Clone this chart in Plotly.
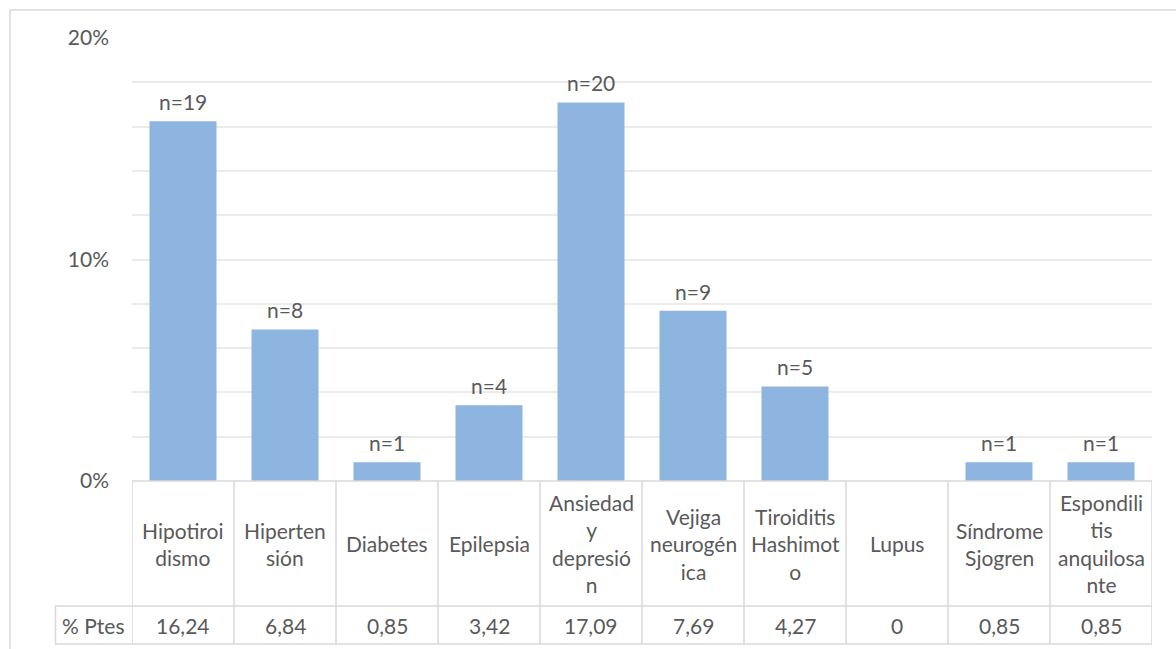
import plotly.graph_objects as go

# Comorbidities: label lines shown in the data table, patient counts and percentages
categories = ["Hipotiroidismo", "Hipertensión", "Diabetes", "Epilepsia",
              "Ansiedad y depresión", "Vejiga neurogénica", "Tiroiditis Hashimoto",
              "Lupus", "Síndrome Sjogren", "Espondilitis anquilosante"]
table_labels = ["Hipotiroi<br>dismo", "Hiperten<br>sión", "Diabetes", "Epilepsia",
                "Ansiedad<br>y<br>depresió<br>n", "Vejiga<br>neurogén<br>ica",
                "Tiroiditis<br>Hashimot<br>o", "Lupus", "Síndrome<br>Sjogren",
                "Espondili<br>tis<br>anquilosa<br>nte"]
n_patients = [19, 8, 1, 4, 20, 9, 5, 0, 1, 1]
pct_patients = [16.24, 6.84, 0.85, 3.42, 17.09, 7.69, 4.27, 0, 0.85, 0.85]
series_name = "% Ptes"
y_label_ticks = [0, 0.10, 0.20]
y_grid_ticks = [0.02, 0.04, 0.06, 0.08, 0.10, 0.12, 0.14, 0.16, 0.18]

TEXT = "#595959"
LINE = "#d9d9d9"
FONT = "Lato"
FS = 21

W, H = 1176, 649
L, R, T, B = 132, 24, 38, 168
PW, PH = W - L - R, H - T - B


def px_x(px):
    return (px - L) / PW


def px_y(py):
    return (H - B - py) / PH


def fmt_pct(v):
    return "0" if v == 0 else f"{v:.2f}".replace(".", ",")


fig = go.Figure()
# invisible carrier so the labelled percentage axis is rendered
fig.add_trace(go.Scatter(x=list(range(len(categories))), y=[p / 100 for p in pct_patients],
                         mode="markers", marker=dict(opacity=0), hoverinfo="skip",
                         yaxis="y", showlegend=False))
fig.add_trace(go.Bar(
    x=list(range(len(categories))), y=[p / 100 for p in pct_patients],
    marker=dict(color="#8db5e0", line=dict(width=0)),
    hovertext=categories, name=series_name, yaxis="y2",
))

annotations = []
# counts above bars
for i, (n, p) in enumerate(zip(n_patients, pct_patients)):
    if n > 0:
        annotations.append(dict(x=i, y=p / 100, xref="x", yref="y2", text=f"n={n}",
                                showarrow=False, yanchor="bottom", yshift=5,
                                font=dict(family=FONT, size=FS, color=TEXT)))
# table: category row and percentage row
row1_top, row1_bot, row2_bot = 481, 606, 644
for i, lab in enumerate(table_labels):
    annotations.append(dict(x=i, y=px_y((row1_top + row1_bot) / 2), xref="x", yref="paper",
                            text=lab, showarrow=False, yanchor="middle", align="center",
                            font=dict(family=FONT, size=FS, color=TEXT)))
    annotations.append(dict(x=i, y=px_y((row1_bot + row2_bot) / 2), xref="x", yref="paper",
                            text=fmt_pct(pct_patients[i]), showarrow=False, yanchor="middle",
                            font=dict(family=FONT, size=FS, color=TEXT)))
annotations.append(dict(x=px_x(93), y=px_y((row1_bot + row2_bot) / 2), xref="paper", yref="paper",
                        text=series_name, showarrow=False, xanchor="center", yanchor="middle",
                        font=dict(family=FONT, size=FS, color=TEXT)))

shapes = []
line = dict(color=LINE, width=1.5)
# vertical table lines at category boundaries
for k in range(len(categories) + 1):
    shapes.append(dict(type="line", xref="x", yref="paper", x0=k - 0.5, x1=k - 0.5,
                       y0=px_y(row1_top), y1=px_y(row2_bot), line=line))
# horizontal table lines
shapes.append(dict(type="line", xref="paper", yref="paper", x0=0, x1=1,
                   y0=px_y(row1_top), y1=px_y(row1_top), line=line))
for yy in (row1_bot, row2_bot):
    shapes.append(dict(type="line", xref="paper", yref="paper", x0=px_x(55), x1=1,
                       y0=px_y(yy), y1=px_y(yy), line=line))
shapes.append(dict(type="line", xref="paper", yref="paper", x0=px_x(55.5), x1=px_x(55.5),
                   y0=px_y(row1_bot), y1=px_y(row2_bot), line=line))
# chart frame
shapes.append(dict(type="rect", xref="paper", yref="paper", x0=px_x(10), x1=px_x(1190),
                   y0=px_y(10), y1=px_y(700), line=dict(color=LINE, width=1.5),
                   fillcolor="rgba(0,0,0,0)", layer="below"))

fig.update_layout(
    width=W, height=H, margin=dict(l=L, r=R, t=T, b=B),
    paper_bgcolor="white", plot_bgcolor="white", showlegend=False,
    bargap=0.343,
    font=dict(family=FONT, size=FS, color=TEXT),
    xaxis=dict(range=[-0.5, len(categories) - 0.5], showticklabels=False, showgrid=False,
               zeroline=False, showline=False, ticks=""),
    yaxis=dict(range=[0, 0.2], tickvals=y_label_ticks, tickformat=".0%", showgrid=False,
               zeroline=False, showline=False, ticks="", ticklabelstandoff=22,
               tickfont=dict(family=FONT, size=FS, color=TEXT)),
    yaxis2=dict(range=[0, 0.2], overlaying="y", tickvals=y_grid_ticks, showgrid=True,
                gridcolor="#ebebeb", gridwidth=1.5, showticklabels=False,
                zeroline=False, showline=False, ticks=""),
    annotations=annotations, shapes=shapes,
)

fig.write_html("out.html")
